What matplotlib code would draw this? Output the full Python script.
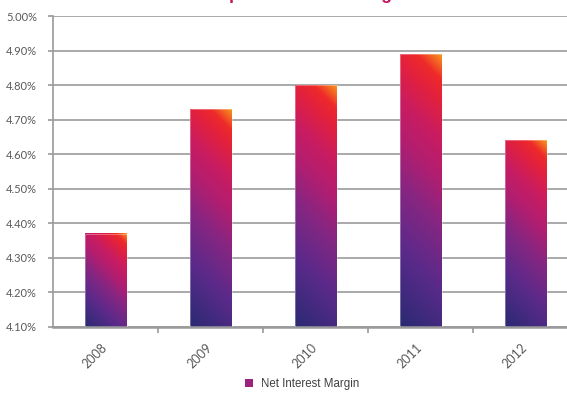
import numpy as np
import matplotlib
matplotlib.use("Agg")
import matplotlib.pyplot as plt
from matplotlib.colors import LinearSegmentedColormap
from matplotlib.patches import Patch
from matplotlib.ticker import FixedLocator, FuncFormatter, NullFormatter

# Net interest margin by year (percent)
years = ["2008", "2009", "2010", "2011", "2012"]
nim = [4.37, 4.73, 4.80, 4.89, 4.64]
y_ticks = [4.10, 4.20, 4.30, 4.40, 4.50, 4.60, 4.70, 4.80, 4.90, 5.00]
title = "Group Net Interest Margin"
series_name = "Net Interest Margin"

# Diagonal fill: navy at bottom-left, through purple and magenta, to red and an orange corner
grad = LinearSegmentedColormap.from_list(
    "nim_grad",
    [(0.00, "#2A2A72"), (0.25, "#5A2A8A"), (0.45, "#862682"),
     (0.60, "#B21E70"), (0.72, "#C81C62"), (0.85, "#E3213C"),
     (0.92, "#EE2A2A"), (1.00, "#F7941D")])

W, H, DPI = 567, 393, 100
fig = plt.figure(figsize=(W / DPI, H / DPI), dpi=DPI)
ax = fig.add_axes([53 / W, 66.3 / H, 525 / W, 310.5 / H])
ax.set_xlim(-0.5, len(years) - 0.5)
ax.set_ylim(y_ticks[0], y_ticks[-1])

gray = "#A3A3A3"
ax.yaxis.grid(True, color=gray, lw=1.3)
ax.set_axisbelow(True)
for s in ("top", "right"):
    ax.spines[s].set_visible(False)
ax.spines["left"].set_color("#9A9A9A")
ax.spines["left"].set_linewidth(1.2)
ax.spines["bottom"].set_color("#9A9A9A")
ax.spines["bottom"].set_linewidth(1.8)

ax.set_yticks(y_ticks)
ax.yaxis.set_major_formatter(FuncFormatter(lambda v, p: f"{v:.2f}%"))
ax.tick_params(axis="y", length=3.5, width=1.2, color="#9A9A9A", pad=8,
               labelsize=8, labelcolor="#595959")
for lab in ax.get_yticklabels():
    lab.set_fontfamily("Lato")

# boundary ticks between categories, labels at category centres
x = np.arange(len(years))
ax.xaxis.set_major_locator(FixedLocator(x[:-1] + 0.5))
ax.xaxis.set_major_formatter(NullFormatter())
ax.set_xticks(x, minor=True)
ax.set_xticklabels(years, minor=True)
ax.tick_params(axis="x", which="major", length=4, width=1.2, color="#9A9A9A")
ax.tick_params(axis="x", which="minor", length=0, pad=14, labelsize=9,
               labelcolor="#595959")
for lab in ax.get_xticklabels(minor=True):
    lab.set_rotation(45)
    lab.set_ha("right")
    lab.set_va("center")
    lab.set_rotation_mode("anchor")
    lab.set_fontfamily("Lato")

bars = ax.bar(x, np.array(nim) - y_ticks[0], bottom=y_ticks[0], width=0.4,
              facecolor="none", edgecolor=(1, 1, 1, 0.45), lw=0.5, zorder=3)

# paint each bar with a 45-degree gradient measured in screen pixels
for b in bars:
    x0, y0 = b.get_x(), b.get_y()
    x1, y1 = x0 + b.get_width(), y0 + b.get_height()
    (px0, py0), (px1, py1) = ax.transData.transform([(x0, y0), (x1, y1)])
    wpx, hpx = px1 - px0, py1 - py0
    nx, ny = 60, max(int(hpx * 2), 20)
    u = np.linspace(0, wpx, nx)[None, :]
    v = np.linspace(0, hpx, ny)[:, None]
    t = (u + v) / (wpx + hpx)
    ax.imshow(grad(t), extent=[x0, x1, y0, y1], origin="lower",
              aspect="auto", interpolation="bilinear", zorder=2)

ax.set_xlim(-0.5, len(years) - 0.5)
ax.set_ylim(y_ticks[0], y_ticks[-1])

# chart title sits mostly above the top edge, only its descenders show
fig.text(297 / W, 1 + 0.6 / H, title, ha="center", va="baseline",
         fontsize=13, fontweight="bold", color="#C4185C",
         family="Liberation Sans")

fig.legend(handles=[Patch(facecolor="#9B237C", edgecolor="none")],
           labels=[series_name], loc="center",
           bbox_to_anchor=(302 / W, 1 - 384 / H), frameon=False,
           handlelength=0.65, handleheight=0.65, handletextpad=0.7,
           prop={"family": "Liberation Sans", "size": 8.3},
           labelcolor="#404040")

fig.savefig("out.png", dpi=DPI)
